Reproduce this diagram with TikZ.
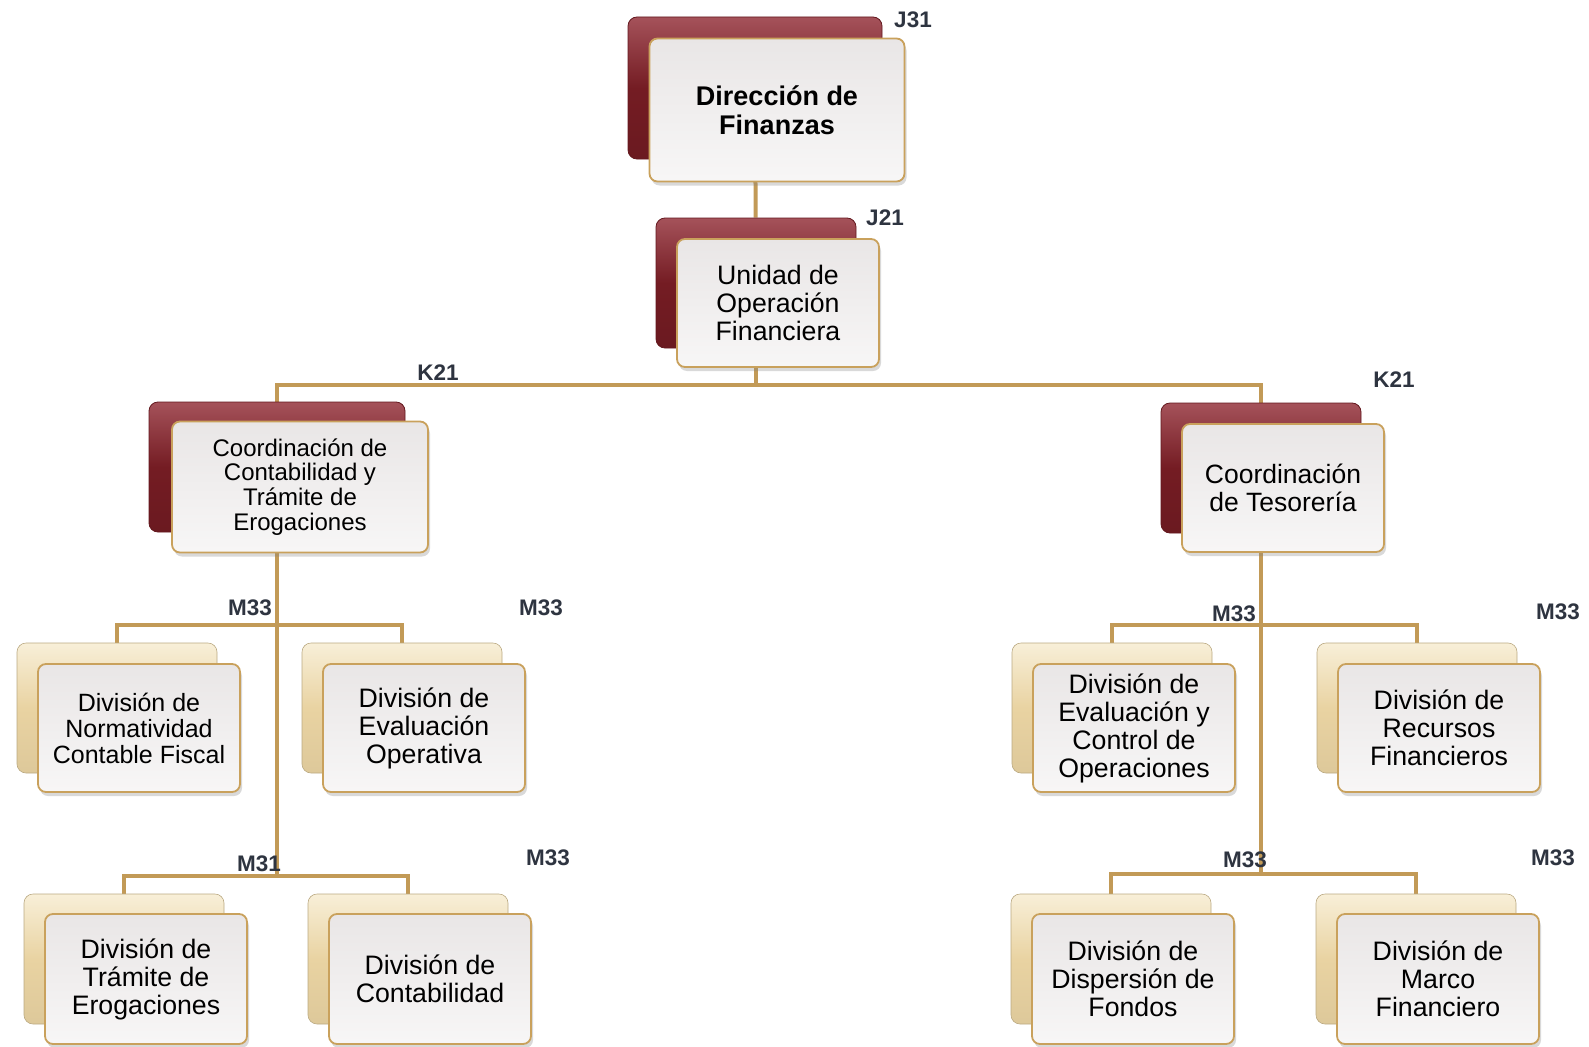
\documentclass[tikz,border=0pt]{standalone}
\usepackage{fontspec}
\setmainfont{Liberation Sans}
\usepackage{xcolor}
\usepackage{tikz}
\usetikzlibrary{positioning,calc,shadows,backgrounds}
\definecolor{orgmaroon}{HTML}{741C23}
\definecolor{orgmaroonhi}{HTML}{A5525A}
\definecolor{orgsand}{HTML}{E9D3A2}
\definecolor{orgsandhi}{HTML}{F8EFD8}
\definecolor{orggold}{HTML}{C9A15C}
\definecolor{orgline}{HTML}{C29A57}
\definecolor{orggrey}{HTML}{E9E6E6}
\definecolor{orgcode}{HTML}{2E3440}
\tikzset{
  headback/.style={rectangle, rounded corners=9pt, draw=orgmaroon!85!black, line width=0.8pt, top color=orgmaroonhi, bottom color=orgmaroon!92!black, middle color=orgmaroon, minimum width=200pt, minimum height=130pt},
  divback/.style={rectangle, rounded corners=9pt, draw=orgsand!80!black, line width=0.6pt, top color=orgsandhi, bottom color=orgsand!95!black, middle color=orgsand, minimum width=200pt, minimum height=130pt},
  unitbox/.style={rectangle, rounded corners=8pt, draw=orggold, line width=1.8pt, top color=orggrey, bottom color=orggrey!35!white, align=center, inner sep=0pt, minimum width=202pt, minimum height=128pt, drop shadow={opacity=0.3, shadow xshift=2pt, shadow yshift=-4pt}, font=\fontsize{26.7}{28}\selectfont},
  link/.style={draw=orgline, line width=4pt},
  code/.style={text=orgcode, font=\fontsize{22.5}{23}\selectfont\bfseries, inner sep=0pt},
}
\begin{document}
\begin{tikzpicture}[x=1pt, y=-1pt]
  \useasboundingbox (0,0) rectangle (1589,1046);
  % back plates
  \node[headback, minimum width=254pt, minimum height=142pt] (dirb) at (755,88) {};
  \node[headback] (unib) at (756,283) {};
  \node[headback, minimum width=256pt] (ccontb) at (277,467) {};
  \node[headback] (ctesb) at (1261,468) {};
  \node[divback] (dnormb) at (117,708) {};
  \node[divback] (devopb) at (402,708) {};
  \node[divback] (dtramb) at (124,959) {};
  \node[divback] (dcontb) at (408,959) {};
  \node[divback] (devcob) at (1112,708) {};
  \node[divback] (drecb) at (1417,708) {};
  \node[divback] (ddispb) at (1111,959) {};
  \node[divback] (dmarcob) at (1416,959) {};
  % bars
  \coordinate (kbar) at (756,385);
  \coordinate (lbara) at (277,625);
  \coordinate (lbarb) at (277,876);
  \coordinate (rbara) at (1261,625);
  \coordinate (rbarb) at (1261,874);
  \begin{scope}[on background layer]
    \draw[link] (dirb) -- (unib);
    \draw[link] (unib) -- (kbar);
    \draw[link] (ccontb.north) |- (kbar) -| (ctesb.north);
    \draw[link] (ccontb) -- (lbarb);
    \draw[link] (dnormb.north) |- (lbara) -| (devopb.north);
    \draw[link] (dtramb.north) |- (lbarb) -| (dcontb.north);
    \draw[link] (ctesb) -- (rbarb);
    \draw[link] (devcob.north) |- (rbara) -| (drecb.north);
    \draw[link] (ddispb.north) |- (rbarb) -| (dmarcob.north);
  \end{scope}
  % front boxes
  \node[unitbox, minimum width=255pt, minimum height=143pt, font=\fontsize{27}{28.5}\selectfont\bfseries] (dir) at ($(dirb)+(22,22)$) {Dirección de\\Finanzas};
  \node[unitbox] (uni) at ($(unib)+(22,20)$) {Unidad de\\Operación\\Financiera};
  \node[unitbox, minimum width=256pt, minimum height=131pt, font=\fontsize{24}{24.8}\selectfont] (ccont) at ($(ccontb)+(23,20)$) {Coordinación de\\Contabilidad y\\Trámite de\\Erogaciones};
  \node[unitbox, font=\fontsize{26.5}{27.5}\selectfont] (ctes) at ($(ctesb)+(22,20)$) {Coordinación\\de Tesorería};
  \node[unitbox, font=\fontsize{25}{26}\selectfont] (dnorm) at ($(dnormb)+(22,20)$) {División de\\Normatividad\\Contable Fiscal};
  \node[unitbox] (devop) at ($(devopb)+(22,20)$) {División de\\Evaluación\\Operativa};
  \node[unitbox, minimum height=130pt] (dtram) at ($(dtramb)+(22,20)$) {División de\\Trámite de\\Erogaciones};
  \node[unitbox, minimum height=130pt] (dcont) at ($(dcontb)+(22,20)$) {División de\\Contabilidad};
  \node[unitbox] (devco) at ($(devcob)+(22,20)$) {División de\\Evaluación y\\Control de\\Operaciones};
  \node[unitbox] (drec) at ($(drecb)+(22,20)$) {División de\\Recursos\\Financieros};
  \node[unitbox, minimum height=130pt] (ddisp) at ($(ddispb)+(22,20)$) {División de\\Dispersión de\\Fondos};
  \node[unitbox, minimum height=130pt] (dmarco) at ($(dmarcob)+(22,20)$) {División de\\Marco\\Financiero};
  % level codes
  \node[code] (cdir) at (913,20) {J31};
  \node[code] (cuni) at (885,218) {J21};
  \node[code] (cccont) at (438,373) {K21};
  \node[code] (cctes) at (1394,380) {K21};
  \node[code] (cdnorm) at (250,608) {M33};
  \node[code] (cdevop) at (541,608) {M33};
  \node[code] (cdtram) at (259,864) {M31};
  \node[code] (cdcont) at (548,858) {M33};
  \node[code] (cdevco) at (1234,614) {M33};
  \node[code] (cdrec) at (1558,612) {M33};
  \node[code] (cddisp) at (1245,860) {M33};
  \node[code] (cdmarco) at (1553,858) {M33};
\end{tikzpicture}
\end{document}
